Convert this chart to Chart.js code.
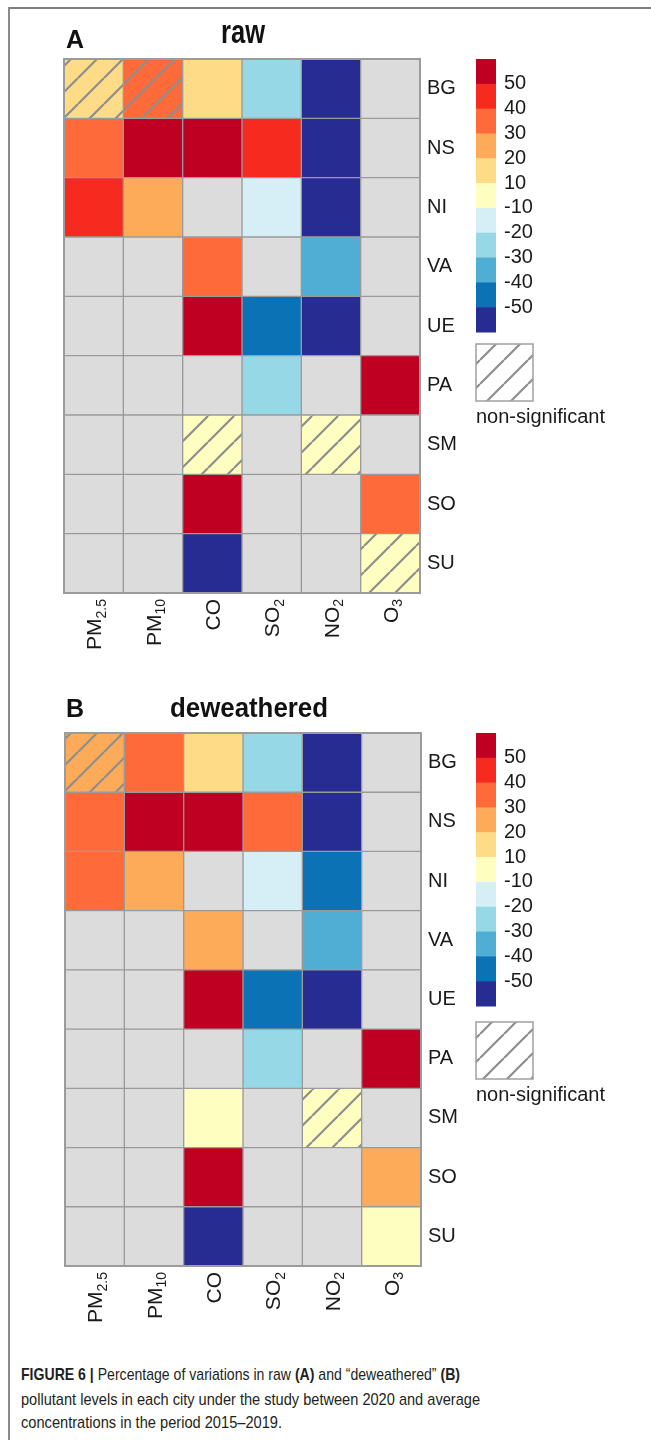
<!DOCTYPE html>
<html><head><meta charset="utf-8">
<script src="https://cdn.jsdelivr.net/npm/chart.js@4.4.1/dist/chart.umd.min.js"></script>
<style>
html,body{margin:0;padding:0;background:#fff;}
body{width:651px;height:1440px;position:relative;overflow:hidden;font-family:"Liberation Sans",Arial,sans-serif;}
#frameTop{position:absolute;left:8px;top:7px;width:643px;height:2px;background:#7d7d7d;}
#frameLeft{position:absolute;left:8px;top:7px;width:2px;height:1433px;background:#8a8a8a;}
canvas{position:absolute;left:0;}
#cA{top:0px;} #cB{top:674px;}
.cap{position:absolute;left:21px;font-size:17px;line-height:20px;color:#231f20;white-space:nowrap;transform-origin:0 0;}
</style></head>
<body>
<div id="frameTop"></div><div id="frameLeft"></div>
<canvas id="cA" width="651" height="674"></canvas>
<canvas id="cB" width="651" height="674"></canvas>
<div class="cap" id="l1" data-w="439" style="top:1365px"><b>FIGURE 6 |</b> Percentage of variations in raw <b>(A)</b> and “deweathered” <b>(B)</b></div>
<div class="cap" id="l2" data-w="459" style="top:1390px">pollutant levels in each city under the study between 2020 and average</div>
<div class="cap" id="l3" data-w="261" style="top:1413px">concentrations in the period 2015–2019.</div>
<script>
// ---- categories ----
const cities = ['BG','NS','NI','VA','UE','PA','SM','SO','SU'];
const pollutants = ['PM2.5','PM10','CO','SO2','NO2','O3'];
const pollutantBase = ['PM','PM','CO','SO','NO','O'];
const pollutantSub = ['2.5','10','','2','2','3'];
const legendTicks = [50,40,30,20,10,-10,-20,-30,-40,-50];
const binColors = ['#bf0022','#f62a1f','#fe6a3a','#fdaa59','#fedb87','#fefec0','#d6eff6','#96d8e6','#50add4','#0c72b6','#262c92'];
const naColor = '#dcdcdc';

// ---- panel A: raw (% change, null = no data) ----
const rawPM25 = [15, 35, 45, null, null, null, null, null, null];
const rawPM10 = [35, 60, 25, null, null, null, null, null, null];
const rawCO   = [15, 60, null, 35, 60, null, 5, 60, -60];
const rawSO2  = [-25, 45, -15, null, -45, -25, null, null, null];
const rawNO2  = [-60, -60, -60, -35, -60, null, 5, null, null];
const rawO3   = [null, null, null, null, null, 60, null, 35, 5];
const rawNonSig = ['BG:PM2.5','BG:PM10','SM:CO','SM:NO2','SU:O3'];

// ---- panel B: deweathered ----
const dwPM25 = [25, 35, 35, null, null, null, null, null, null];
const dwPM10 = [35, 60, 25, null, null, null, null, null, null];
const dwCO   = [15, 60, null, 25, 60, null, 5, 60, -60];
const dwSO2  = [-25, 35, -15, null, -45, -25, null, null, null];
const dwNO2  = [-60, -60, -45, -35, -60, null, 5, null, null];
const dwO3   = [null, null, null, null, null, 60, null, 25, 5];
const dwNonSig = ['BG:PM2.5','SM:NO2'];

const FONT = '"Liberation Sans", Arial, sans-serif';

function colorFor(v){
  if (v === null || v === undefined) return naColor;
  const edges = [50,40,30,20,10,-10,-20,-30,-40,-50];
  for (let k=0;k<edges.length;k++){ if (v > edges[k]) return binColors[k]; }
  return binColors[10];
}
function makeHatch(ctx, color, s){
  s = s || 26;
  const c = document.createElement('canvas'); c.width = s; c.height = s;
  const g = c.getContext('2d');
  g.fillStyle = color; g.fillRect(0,0,s,s);
  g.strokeStyle = '#8e8e8e'; g.lineWidth = 2.2;
  g.beginPath();
  for (let k=-1;k<=1;k++){ g.moveTo(k*s, s); g.lineTo(k*s+s, 0); }
  g.stroke();
  return ctx.createPattern(c, 'repeat');
}

const decorPlugin = {
  id: 'decor',
  afterDraw(chart, args, o){
    const ctx = chart.ctx, a = chart.chartArea, xs = chart.scales.x;
    ctx.save();
    // outer frame of the grid
    ctx.strokeStyle = '#9b9b9b'; ctx.lineWidth = 2;
    ctx.strokeRect(a.left, a.top, a.right-a.left, a.bottom-a.top);
    // panel letter and title
    ctx.fillStyle = '#111'; ctx.textBaseline = 'alphabetic';
    ctx.font = 'bold 25px ' + FONT; ctx.textAlign = 'left';
    ctx.fillText(o.letter, o.letterX, o.letterY);
    ctx.font = o.titleFont; ctx.textAlign = 'center';
    ctx.fillText(o.title, o.titleX, o.titleY, o.titleMaxW);
    // rotated pollutant labels with subscripts
    ctx.fillStyle = '#1a1a1a';
    pollutantBase.forEach((b, j) => {
      const cx = xs.getPixelForValue(j + 0.5);
      const sub = pollutantSub[j];
      ctx.save();
      ctx.translate(cx, a.bottom + 6);
      ctx.rotate(-Math.PI/2);
      ctx.textAlign = 'left'; ctx.textBaseline = 'alphabetic';
      ctx.font = '21px ' + FONT; const wb = ctx.measureText(b).width;
      ctx.font = '14px ' + FONT; const ws = sub ? ctx.measureText(sub).width : 0;
      const start = -(wb + ws);
      ctx.font = '21px ' + FONT; ctx.fillText(b, start, 7.5);
      if (sub){ ctx.font = '14px ' + FONT; ctx.fillText(sub, start + wb, 12); }
      ctx.restore();
    });
    // colour bar legend
    const L = o.legend;
    const segH = (L.bottom - L.top) / binColors.length;
    binColors.forEach((c, k) => {
      ctx.fillStyle = c;
      ctx.fillRect(L.x, L.top + k*segH, L.w, segH + 0.5);
    });
    ctx.fillStyle = '#1a1a1a'; ctx.font = '20px ' + FONT;
    ctx.textAlign = 'left'; ctx.textBaseline = 'middle';
    legendTicks.forEach((t, k) => {
      ctx.fillText(String(t), L.x + 28, L.top + (k+1)*segH);
    });
    // non-significant box
    ctx.fillStyle = makeHatch(ctx, '#ffffff', 24);
    ctx.fillRect(L.x, L.hatchTop, 57, 57);
    ctx.strokeStyle = '#a0a0a0'; ctx.lineWidth = 1.5;
    ctx.strokeRect(L.x, L.hatchTop, 57, 57);
    ctx.fillStyle = '#1a1a1a'; ctx.font = '20px ' + FONT;
    ctx.textBaseline = 'middle';
    ctx.fillText('non-significant', L.x, L.hatchTop + 73);
    ctx.restore();
  }
};

function makeChart(id, series, nonSig, deco, pad){
  const canvas = document.getElementById(id);
  const ctx = canvas.getContext('2d');
  const datasets = pollutants.map((p, j) => ({
    label: p,
    data: cities.map(() => [j, j + 1]),
    backgroundColor: cities.map((c, i) => {
      const col = colorFor(series[j][i]);
      return nonSig.includes(c + ':' + p) ? makeHatch(ctx, col) : col;
    }),
    borderColor: '#9b9b9b', borderWidth: 1, borderSkipped: false,
    barPercentage: 1, categoryPercentage: 1, grouped: false
  }));
  return new Chart(ctx, {
    type: 'bar',
    data: { labels: cities, datasets },
    options: {
      indexAxis: 'y', responsive: false, animation: false, events: [],
      layout: { padding: pad },
      plugins: { legend: { display: false }, tooltip: { enabled: false }, decor: deco },
      scales: {
        x: { type: 'linear', min: 0, max: 6, display: false },
        y: { type: 'category', position: 'right', offset: true,
             grid: { display: false, drawTicks: false }, border: { display: false },
             ticks: { font: { family: FONT, size: 20 }, color: '#1a1a1a', padding: 7 },
             afterFit(s){ s.width = 50; } }
      }
    },
    plugins: [decorPlugin]
  });
}

makeChart('cA', [rawPM25, rawPM10, rawCO, rawSO2, rawNO2, rawO3], rawNonSig,
  { letter: 'A', letterX: 66, letterY: 48, title: 'raw', titleFont: 'bold 33px ' + FONT, titleX: 243, titleY: 43, titleMaxW: 44,
    legend: { x: 476, w: 20, top: 59, bottom: 332, hatchTop: 344 } },
  { left: 64, top: 59, right: 181, bottom: 81 });

makeChart('cB', [dwPM25, dwPM10, dwCO, dwSO2, dwNO2, dwO3], dwNonSig,
  { letter: 'B', letterX: 66, letterY: 43, title: 'deweathered', titleFont: 'bold 27px ' + FONT, titleX: 249, titleY: 43, titleMaxW: 158,
    legend: { x: 476, w: 20, top: 59, bottom: 332, hatchTop: 348 } },
  { left: 65, top: 59, right: 180, bottom: 82 });

['l1','l2','l3'].forEach(id => {
  const el = document.getElementById(id);
  const w = el.getBoundingClientRect().width;
  const target = +el.dataset.w;
  el.style.transform = 'scaleX(' + (target / w) + ')';
});
</script>
</body></html>
